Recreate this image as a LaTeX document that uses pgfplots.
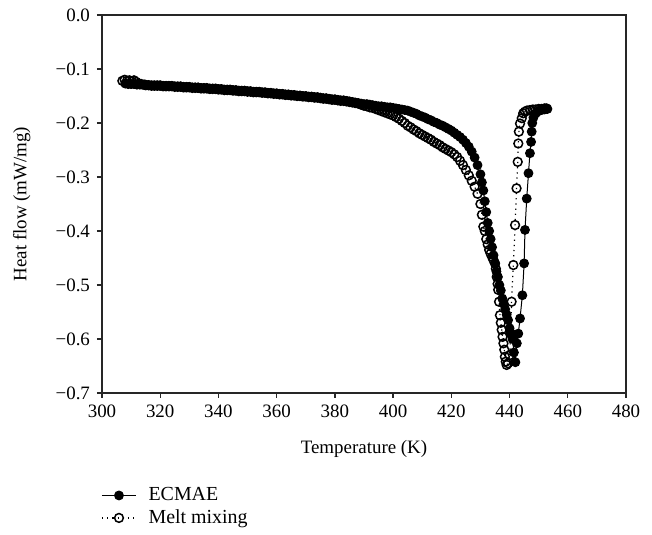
\documentclass[border=0pt]{standalone}
\usepackage{fontspec}
\setmainfont{Liberation Serif}
\usepackage{pgfplots}
\pgfplotsset{compat=1.18}
\begin{document}
\begin{tikzpicture}
\begin{axis}[
  name=ax,
  scale only axis, width=262bp, height=189bp,
  xmin=300, xmax=480, ymin=-0.7, ymax=0,
  font=\fontsize{9.5}{11}\selectfont,
  xtick={300,320,340,360,380,400,420,440,460,480},
  xticklabels={300,320,340,360,380,400,420,440,460,480},
  ytick={-0.7,-0.6,-0.5,-0.4,-0.3,-0.2,-0.1,0},
  yticklabels={−0.7,−0.6,−0.5,−0.4,−0.3,−0.2,−0.1,0.0},
  tick align=outside, tick pos=left, major tick length=2.5bp,
  axis line style={line width=0.65bp, black!85},
  every tick/.style={line width=0.65bp, black!85},
  xlabel={Temperature (K)},
  xlabel style={yshift=-4.5bp},
  ylabel={Heat flow (mW/mg)},
  ylabel style={at={(axis description cs:-0.153,0.5)}, anchor=center},
  legend style={draw=none, fill=none, at={(axis description cs:0,0)}, anchor=north west,
    xshift=-3.5bp, yshift=-43bp, row sep=-1bp, font=\fontsize{10}{12}\selectfont},
  legend cell align=left,
  legend image code/.code={\draw[mark repeat=2,mark phase=2,#1] plot coordinates {(0bp,0bp) (8.5bp,0bp) (17bp,0bp)}; \path (21bp,0bp);},
  clip=false,
]
\addplot[black, line width=0.5bp, mark=*, mark size=2.2bp, mark options={fill=black, draw=black, line width=0.5bp}]
coordinates {
(308,-0.127)(309,-0.128)(310,-0.128)(311,-0.128)(312,-0.129)(313,-0.129)(314,-0.129)(315,-0.129)
(316,-0.130)(317,-0.130)(318,-0.130)(319,-0.130)(320,-0.130)(321,-0.131)(322,-0.131)(323,-0.131)
(324,-0.131)(325,-0.132)(326,-0.132)(327,-0.132)(328,-0.133)(329,-0.133)(330,-0.133)(331,-0.134)
(332,-0.134)(333,-0.134)(334,-0.135)(335,-0.135)(336,-0.135)(337,-0.136)(338,-0.136)(339,-0.136)
(340,-0.137)(341,-0.137)(342,-0.138)(343,-0.138)(344,-0.138)(345,-0.139)(346,-0.139)(347,-0.140)
(348,-0.140)(349,-0.140)(350,-0.141)(351,-0.141)(352,-0.142)(353,-0.142)(354,-0.142)(355,-0.143)
(356,-0.143)(357,-0.144)(358,-0.144)(359,-0.145)(360,-0.145)(361,-0.146)(362,-0.146)(363,-0.147)
(364,-0.147)(365,-0.148)(366,-0.148)(367,-0.149)(368,-0.149)(369,-0.150)(370,-0.150)(371,-0.151)
(372,-0.151)(373,-0.152)(374,-0.152)(375,-0.153)(376,-0.154)(377,-0.154)(378,-0.155)(379,-0.156)
(380,-0.156)(381,-0.157)(382,-0.158)(383,-0.158)(384,-0.159)(385,-0.160)(386,-0.161)(387,-0.162)
(388,-0.163)(389,-0.164)(390,-0.165)(391,-0.165)(392,-0.166)(393,-0.167)(394,-0.168)(395,-0.169)
(396,-0.169)(397,-0.170)(398,-0.171)(399,-0.171)(400,-0.172)(401,-0.173)(402,-0.174)(403,-0.175)
(404,-0.176)(405,-0.177)(406,-0.179)(407,-0.181)(408,-0.183)(409,-0.186)(410,-0.188)(411,-0.190)
(412,-0.193)(413,-0.195)(414,-0.198)(415,-0.200)(416,-0.203)(417,-0.205)(418,-0.208)(419,-0.211)
(420,-0.214)(421,-0.218)(422,-0.222)(423,-0.226)(424,-0.231)(425,-0.237)(426,-0.244)(427,-0.253)
(428,-0.264)(429,-0.278)(430,-0.295)(430.5,-0.310)(431,-0.325)(431.5,-0.345)(432,-0.365)
(432.5,-0.385)(433,-0.400)(433.5,-0.415)(434,-0.430)(434.5,-0.445)(435,-0.460)(435.5,-0.475)
(436,-0.485)(436.5,-0.500)(437,-0.510)(437.5,-0.525)(438,-0.535)(438.5,-0.545)(439,-0.555)
(439.5,-0.565)(440,-0.580)(440.5,-0.590)(441,-0.600)(441.5,-0.625)(442,-0.643)
(442.5,-0.608)(443,-0.590)(443.6,-0.562)(444.4,-0.519)(445,-0.460)(445.3,-0.398)(445.9,-0.340)
(446.5,-0.293)(447,-0.256)(447.4,-0.235)(447.6,-0.216)(447.8,-0.200)(448.2,-0.190)(449,-0.182)
(450,-0.178)(451,-0.176)(452,-0.175)(453,-0.174)
};
\addlegendentry{ECMAE}
\addplot[black, line width=0.6bp, dotted, mark=o, mark size=2.2bp, mark options={solid, fill=white, draw=black, line width=0.75bp}]
coordinates {
(307,-0.122)(307.8,-0.120)(308.6,-0.122)(309.4,-0.121)(310.2,-0.123)(311,-0.121)(311.8,-0.124)
(312.6,-0.127)(313.5,-0.128)(314.5,-0.129)
(315,-0.130)(316,-0.130)(317,-0.131)(318,-0.131)(319,-0.131)(320,-0.131)(321,-0.132)(322,-0.132)
(323,-0.132)(324,-0.132)(325,-0.133)(326,-0.133)(327,-0.133)(328,-0.134)(329,-0.134)(330,-0.134)
(331,-0.135)(332,-0.135)(333,-0.135)(334,-0.136)(335,-0.136)(336,-0.136)(337,-0.137)(338,-0.137)
(339,-0.137)(340,-0.138)(341,-0.138)(342,-0.139)(343,-0.139)(344,-0.139)(345,-0.140)(346,-0.140)
(347,-0.141)(348,-0.141)(349,-0.141)(350,-0.142)(351,-0.142)(352,-0.143)(353,-0.143)(354,-0.143)
(355,-0.144)(356,-0.144)(357,-0.145)(358,-0.145)(359,-0.146)(360,-0.146)(361,-0.147)(362,-0.147)
(363,-0.148)(364,-0.148)(365,-0.149)(366,-0.149)(367,-0.150)(368,-0.150)(369,-0.151)(370,-0.151)
(371,-0.152)(372,-0.152)(373,-0.153)(374,-0.153)(375,-0.154)(376,-0.155)(377,-0.155)(378,-0.156)
(379,-0.157)(380,-0.157)(381,-0.158)(382,-0.159)(383,-0.159)(384,-0.160)(385,-0.161)(386,-0.162)
(387,-0.163)(388,-0.164)(389,-0.166)(390,-0.168)(391,-0.169)(392,-0.171)(393,-0.172)(394,-0.174)
(395,-0.176)(396,-0.178)(397,-0.180)(398,-0.182)(399,-0.184)(400,-0.186)(401,-0.189)(402,-0.192)
(403,-0.196)(404,-0.200)(405,-0.205)(406,-0.208)(407,-0.212)(408,-0.215)(409,-0.219)(410,-0.222)
(411,-0.225)(412,-0.228)(413,-0.231)(414,-0.235)(415,-0.238)(416,-0.241)(417,-0.245)(418,-0.248)
(419,-0.251)(420,-0.254)(421,-0.258)(422,-0.263)(423,-0.270)(424,-0.278)(425,-0.287)(426,-0.297)
(427,-0.307)(428,-0.318)(429,-0.331)(430,-0.350)(430.5,-0.370)(431,-0.392)(431.5,-0.400)
(432,-0.415)(432.5,-0.425)(433,-0.435)(433.5,-0.442)(434,-0.448)(434.5,-0.454)(435,-0.460)
(435.3,-0.470)(435.6,-0.485)(435.9,-0.498)(436.1,-0.509)(436.4,-0.531)(436.7,-0.556)(437,-0.570)
(437.3,-0.583)(437.6,-0.596)(437.9,-0.608)(438.2,-0.620)(438.4,-0.633)(438.7,-0.642)(439,-0.648)
(439.5,-0.645)(440,-0.630)(440.4,-0.590)(440.7,-0.531)(441.3,-0.463)(441.9,-0.389)(442.4,-0.321)
(442.8,-0.272)(443.0,-0.238)(443.2,-0.216)(443.6,-0.201)(444.2,-0.191)(444.7,-0.182)(445.3,-0.179)
(446,-0.177)(447,-0.176)(448,-0.175)(449,-0.175)(450,-0.174)(451,-0.174)(452,-0.173)(452.7,-0.173)
};
\addlegendentry{Melt mixing}
\end{axis}
\path (ax.south west) ++(-51bp,-68bp) coordinate (bl);
\path (ax.north east) ++(13bp,7.5bp) coordinate (tr);
\path (bl) rectangle (tr);
\end{tikzpicture}
\end{document}
